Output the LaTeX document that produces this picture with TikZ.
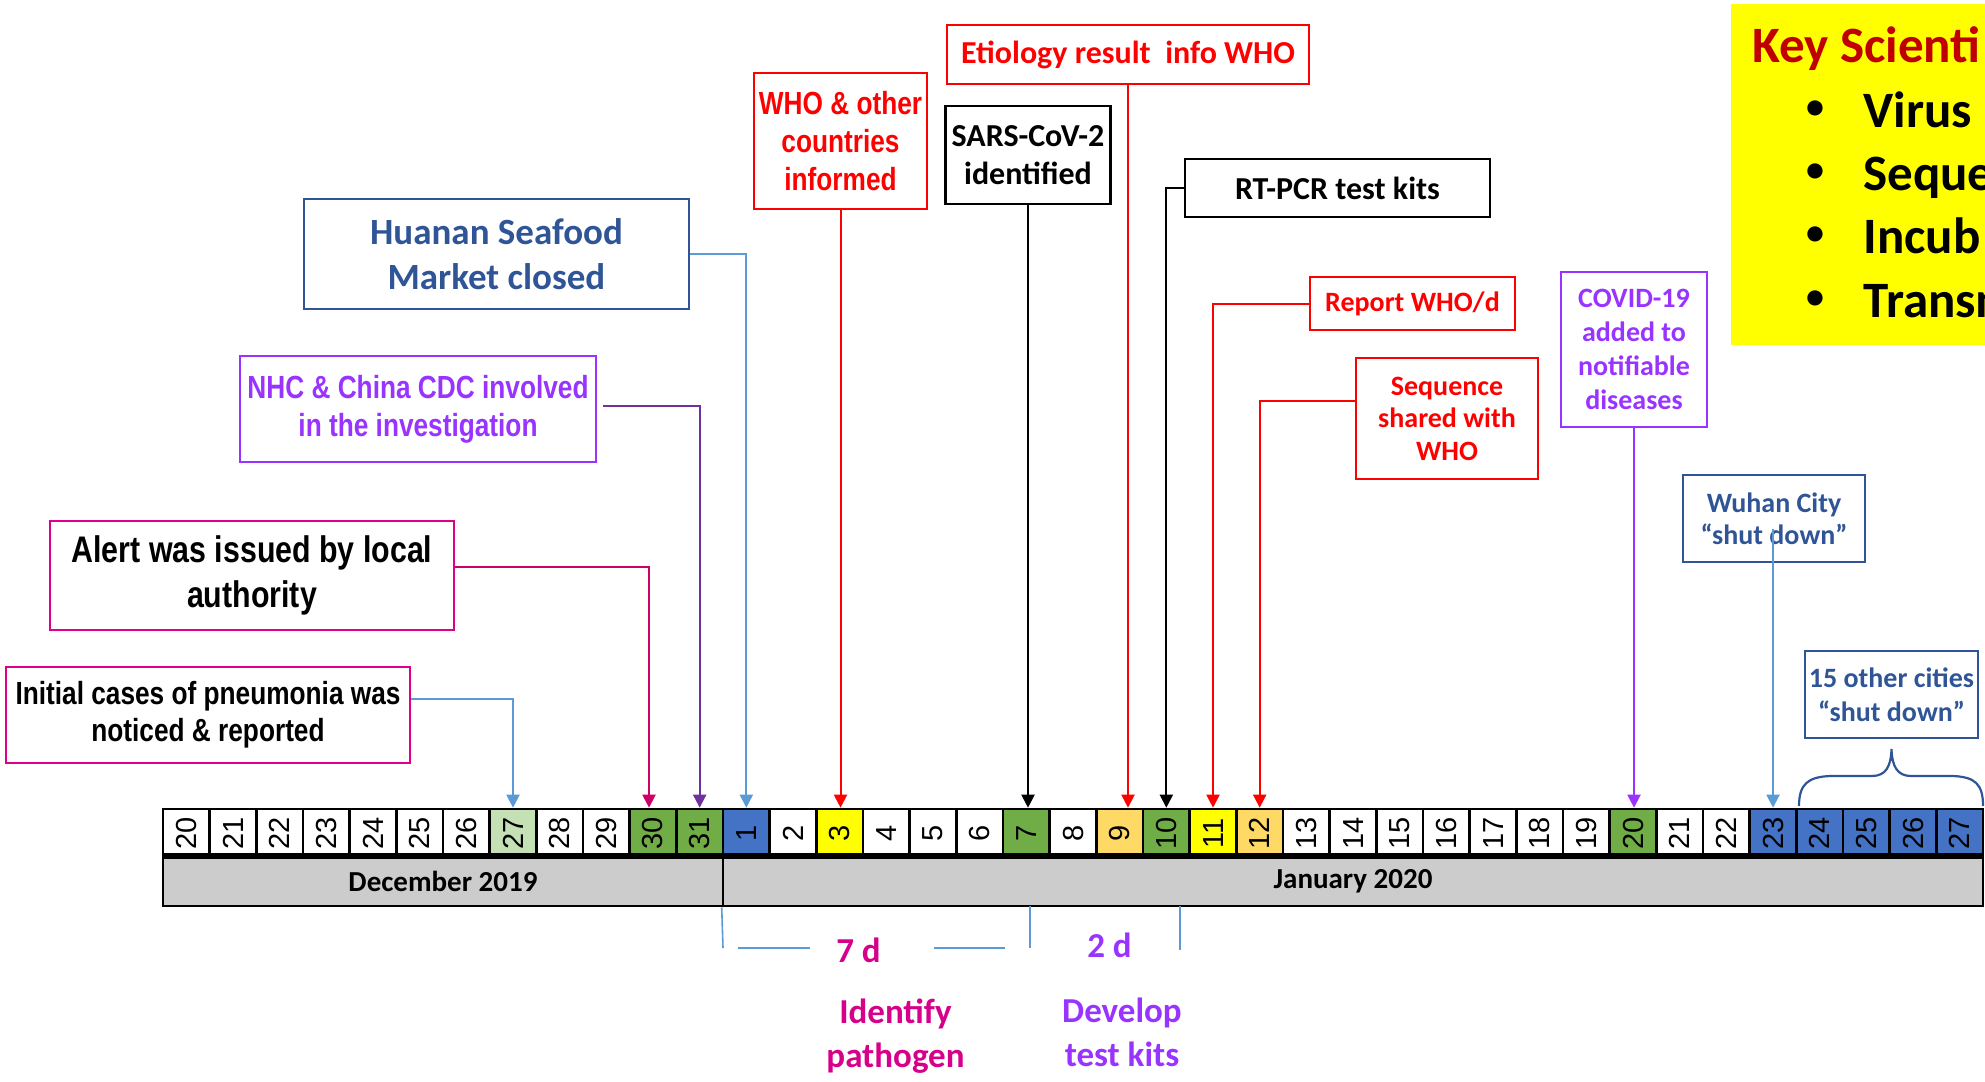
\documentclass[tikz,border=0pt]{standalone}
\usepackage{fontspec}
\usepackage{graphicx}
\setmainfont{Carlito}
\newfontfamily\narrowfont[FakeStretch=0.82]{Liberation Sans}
\newfontfamily\arialfont{Liberation Sans}
\usetikzlibrary{arrows.meta}
\definecolor{cdblue}{RGB}{47,85,151}
\definecolor{clblue}{RGB}{91,155,213}
\definecolor{cpurple}{RGB}{153,51,255}
\definecolor{cdpurple}{RGB}{112,48,160}
\definecolor{cmag}{RGB}{222,0,140}
\definecolor{cmagtext}{RGB}{214,0,138}
\definecolor{calert}{RGB}{204,0,102}
\definecolor{cred}{RGB}{255,0,0}
\definecolor{cdred}{RGB}{192,0,0}
\definecolor{cyel}{RGB}{255,255,0}
\definecolor{cgrn}{RGB}{112,173,71}
\definecolor{clgrn}{RGB}{197,224,180}
\definecolor{cblu}{RGB}{68,114,196}
\definecolor{corg}{RGB}{255,217,102}
\definecolor{cgray}{RGB}{204,204,204}
\begin{document}
\begin{tikzpicture}[x=0.5pt,y=-0.5pt,
  box/.style={draw, line width=1.3pt, align=center, inner sep=0pt},
  conn/.style={line width=1pt, -{Triangle[length=6.5pt,width=6.5pt]}},
  cell/.style={draw=black, line width=1.3pt, minimum width=23.333pt, minimum height=24pt, inner sep=0pt, font=\arialfont\fontsize{14.5}{14.5}\selectfont},
  monthbar/.style={draw=black, fill=cgray, line width=1.3pt, minimum height=24.5pt, inner sep=0pt, font=\fontsize{14.5}{16}\selectfont\bfseries},
  plainline/.style={clblue, line width=0.8pt},
  lbl/.style={inner sep=0pt, align=center, font=\fontsize{17.5}{22}\selectfont\bfseries},
  keytext/.style={inner sep=0pt, font=\fontsize{25.5}{30}\selectfont\bfseries},
  keybullet/.style={inner sep=0pt, font=\fontsize{18}{20}\selectfont\bfseries},
]
\useasboundingbox (0,0) rectangle (1985,1081);

% month bars
\node[monthbar, minimum width=280pt] (decbar) at (443,881.5) {December 2019};
\node[monthbar, minimum width=630pt] (janbar) at (1353,881.5) {January 2020};

% day cells
\foreach \d/\c [count=\i from 0] in {20/white,21/white,22/white,23/white,24/white,25/white,26/white,27/clgrn,28/white,29/white,30/cgrn,31/cgrn}{
  \node[cell, fill=\c] (dec\d) at ({163+(\i+0.5)*46.667},833) {\rotatebox{90}{\d}};
}
\foreach \d/\c [count=\i from 12] in {1/cblu,2/white,3/cyel,4/white,5/white,6/white,7/cgrn,8/white,9/corg,10/cgrn,11/cyel,12/corg,13/white,14/white,15/white,16/white,17/white,18/white,19/white,20/cgrn,21/white,22/white,23/cblu,24/cblu,25/cblu,26/cblu,27/cblu}{
  \node[cell, fill=\c] (jan\d) at ({163+(\i+0.5)*46.667},833) {\rotatebox{90}{\d}};
}
\draw[line width=3pt] (decbar.north west) -- (janbar.north east);

% event boxes
\node[box, draw=cmag, minimum width=202pt, minimum height=48pt, font=\narrowfont\fontsize{16}{18.5}\selectfont\bfseries] (init) at (208,715) {Initial cases of pneumonia was\\noticed \& reported};
\node[box, draw=cmag, minimum width=202pt, minimum height=54.5pt, font=\narrowfont\fontsize{18.5}{22.5}\selectfont\bfseries] (alert) at (252,575.5) {Alert was issued by local\\authority};
\node[box, draw=cpurple, text=cpurple, minimum width=178pt, minimum height=53pt, font=\narrowfont\fontsize{16}{19}\selectfont\bfseries] (nhc) at (418,409) {NHC \& China CDC involved\\in the investigation};
\node[box, draw=cdblue, text=cdblue, minimum width=192.5pt, minimum height=55pt, font=\fontsize{18.5}{22.5}\selectfont\bfseries] (huanan) at (496.5,254) {Huanan Seafood\\Market closed};
\node[box, draw=cred, text=cred, minimum width=86.5pt, minimum height=68pt, font=\narrowfont\fontsize{16}{19}\selectfont\bfseries] (whoinf) at (840.5,141) {WHO \& other\\countries\\informed};
\node[box, draw=cred, text=cred, minimum width=181pt, minimum height=29.5pt, font=\fontsize{16}{19}\selectfont\bfseries] (etio) at (1128,54.5) {Etiology result~ info WHO};
\node[box, draw=black, minimum width=82.5pt, minimum height=49pt, font=\fontsize{16}{19}\selectfont\bfseries] (sars) at (1028,155) {SARS-CoV-2\\identified};
\node[box, draw=black, minimum width=152.5pt, minimum height=29pt, font=\fontsize{16}{19}\selectfont\bfseries] (rtpcr) at (1337.5,188) {RT-PCR test kits};
\node[box, draw=cred, text=cred, minimum width=102.5pt, minimum height=26.5pt, font=\fontsize{14}{17}\selectfont\bfseries] (report) at (1412.5,303.5) {Report WHO/d};
\node[box, draw=cred, text=cred, minimum width=91pt, minimum height=60.5pt, font=\fontsize{14}{16.25}\selectfont\bfseries] (seq) at (1447,418.5) {Sequence\\shared with\\WHO};
\node[box, draw=cpurple, text=cpurple, minimum width=73pt, minimum height=77.5pt, font=\fontsize{14}{17}\selectfont\bfseries] (covid) at (1634,349.5) {COVID-19\\added to\\notifiable\\diseases};
\node[box, draw=cdblue, text=cdblue, minimum width=91pt, minimum height=43.5pt, font=\fontsize{14}{16}\selectfont\bfseries] (wuhan) at (1774,518.5) {Wuhan City\\“shut down”};
\node[box, draw=cdblue, text=cdblue, minimum width=86.5pt, minimum height=43.5pt, font=\fontsize{14}{17}\selectfont\bfseries] (cities) at (1891.5,694.5) {15 other cities\\“shut down”};

% connectors
\draw[conn, clblue] (init.east |- 0,699) -| (dec27.north);
\draw[conn, calert] (alert.east |- 0,567) -| ([xshift=-2pt]dec30.north);
\draw[conn, cdpurple] ([xshift=3pt]nhc.east |- 0,406) -| (dec31.north);
\draw[conn, clblue] (huanan.east) -| (jan1.north);
\draw[conn, cred] (whoinf.south) -- (whoinf.south |- jan3.north);
\draw[conn, cred] (etio.south) -- (etio.south |- jan9.north);
\draw[conn, black] (sars.south) -- (sars.south |- jan7.north);
\draw[conn, black] (rtpcr.west) -| (jan10.north);
\draw[conn, cred] (report.west) -| (jan11.north);
\draw[conn, cred] (seq.west |- 0,401) -| (jan12.north);
\draw[conn, cpurple] (covid.south) -- (covid.south |- jan20.north);
\draw[conn, clblue] ([yshift=-5pt]wuhan.center -| jan23.north) -- (jan23.north);

% brace over 24-27
\draw[cdblue, line width=1.1pt] (1799,806) .. controls (1799,784) and (1808,777) .. (1830,776) -- (1872,776) .. controls (1886,776) and (1891,766) .. (1891.5,749) .. controls (1892,766) and (1897,776) .. (1911,776) -- (1953,776) .. controls (1975,777) and (1983,784) .. (1983,806);

% duration markers
\draw[plainline] (janbar.south west) -- (723,948);
\draw[plainline] (1030,906) -- (1030,948);
\draw[plainline] (1180,906) -- (1180,950);
\draw[plainline] (738,948) -- (810,948);
\draw[plainline] (934,948) -- (1005,948);
\node[lbl, text=cmagtext] (sevend) at (858.5,950) {7 d};
\node[lbl, text=cpurple] (twod) at (1109.5,945) {2 d};
\node[lbl, text=cmagtext] (ident) at (895.5,1036) {Identify\\pathogen};
\node[lbl, text=cpurple] (devel) at (1122,1032) {Develop\\test kits};

% key findings box (cut by the picture edge, as in the reference)
\begin{scope}
\clip (0,0) rectangle (1985,1081);
\fill[cyel] (1731,4) rectangle (1995,345);
\node[keytext, anchor=base west, text=cdred] (keytitle) at (1752,63) {Key Scienti};
\foreach \t/\yy [count=\k] in {Virus/127,Seque/190,Incub/253,Transm/317}{
  \node[keybullet] (bul\k) at (1815,\yy-17) {\textbullet};
  \node[keytext, anchor=base west] (item\k) at (1863,\yy) {\t};
}
\end{scope}
\end{tikzpicture}
\end{document}
